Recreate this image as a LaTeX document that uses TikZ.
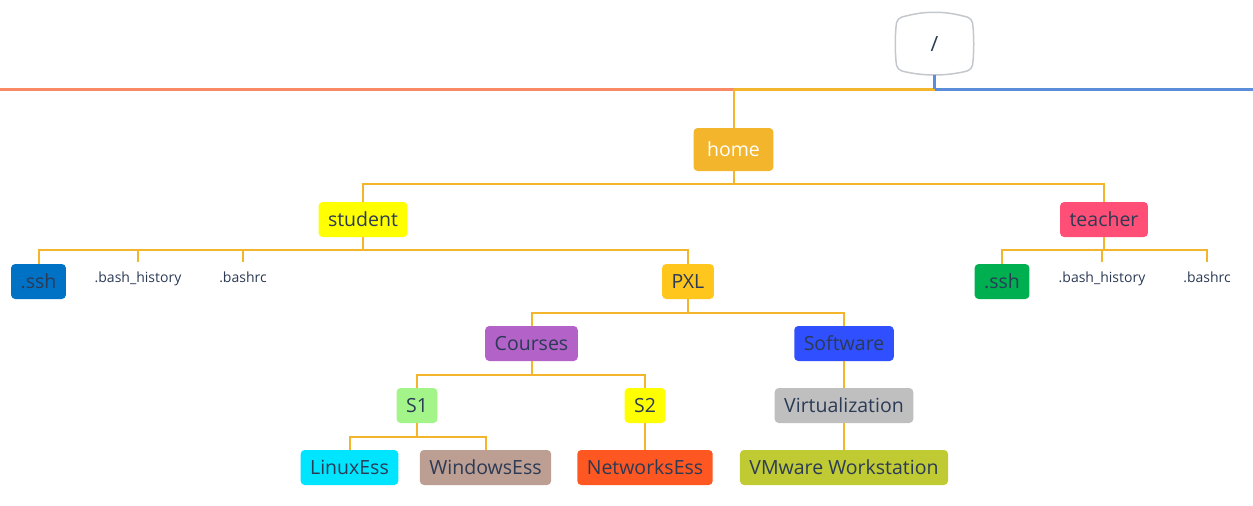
\documentclass[tikz,border=0pt]{standalone}
\usepackage{fontspec}
\setmainfont{Open Sans}
\usepackage{tikz}
\usetikzlibrary{calc}

\definecolor{txt}{HTML}{2B3A55}
\definecolor{branchc}{HTML}{F2B52B}
\definecolor{leftc}{HTML}{F88B66}
\definecolor{rightc}{HTML}{5B8DD9}
\definecolor{framec}{HTML}{C4C8CC}

\begin{document}
\begin{tikzpicture}[x=1pt,y=-1pt,
    box/.style={rounded corners=4pt,inner xsep=9.5pt,minimum height=35pt,
      font=\fontsize{19.5}{19.5}\selectfont,text=txt},
    leaf/.style={inner sep=0pt,font=\fontsize{14}{14}\selectfont,text=txt},
    branch/.style={branchc,line width=2pt},
    bus/.style={line width=3pt}]
          \useasboundingbox (0,0) rectangle (1253,506);
          % root and top line
          \draw[framec,line width=1.5pt,fill=white]
            (906,16) .. controls (925,11) and (944,11) .. (963,16)
            .. controls (970,17) and (973,20) .. (973,27)
            .. controls (974,38) and (974,50) .. (973,61)
            .. controls (973,68) and (970,71) .. (963,72)
            .. controls (944,76) and (925,76) .. (906,72)
            .. controls (899,71) and (896,68) .. (896,61)
            .. controls (895,50) and (895,38) .. (896,27)
            .. controls (896,20) and (899,17) .. (906,16) -- cycle;
          \node[minimum width=77pt,minimum height=62pt,
            font=\fontsize{21}{21}\selectfont,text=txt] (root) at (934.5,44) {/};
          \coordinate (rbus) at (934.5,89);
          \coordinate (hbus) at (733.5,89);
          \draw[bus,leftc] (0,89) -- (hbus);
          \draw[bus,branchc] (hbus) -- (rbus);
          \draw[bus,rightc] (rbus) -- (1253,89);
          \draw[line width=2.5pt,rightc] (root.south) -- (rbus);
          \node[box,fill=branchc,text=white,minimum height=43pt,inner xsep=13.5pt] (home) at (733.5,149.5) {home};
          \draw[branch] (hbus) -- (home.north);
          % home
          \node[box,fill={rgb,255:red,255;green,255;blue,0}] (student) at (363,219.5) {student};
          \node[box,fill={rgb,255:red,255;green,79;blue,118}] (teacher) at (1104,219.5) {teacher};
          \coordinate (homej) at (733.5,184);
          \draw[branch] (home.south) -- (homej) -| (student.north);
          \draw[branch] (homej) -| (teacher.north);
          % student
          \node[box,fill={rgb,255:red,0;green,114;blue,198}] (sssh) at (38.5,281.5) {.ssh};
          \node[leaf,anchor=north] (shist) at (138,272) {.bash\_history};
          \node[leaf,anchor=north] (src) at (243,272) {.bashrc};
          \node[box,fill={rgb,255:red,255;green,198;blue,30}] (pxl) at (688,281.5) {PXL};
          \coordinate (studj) at (363,250);
          \draw[branch] (student.south) -- (studj) -| (sssh.north);
          \draw[branch] (studj) -| (pxl.north);
          \draw[branch] (shist.north |- studj) -- ++(0,12);
          \draw[branch] (src.north |- studj) -- ++(0,12);
          % teacher
          \node[box,fill={rgb,255:red,0;green,176;blue,80}] (tssh) at (1002,281.5) {.ssh};
          \node[leaf,anchor=north] (thist) at (1102,272) {.bash\_history};
          \node[leaf,anchor=north] (trc) at (1207,272) {.bashrc};
          \coordinate (teachj) at (1104,250);
          \draw[branch] (teacher.south) -- (teachj) -| (tssh.north);
          \draw[branch] (teachj) -| ($(trc.north)+(0,-10)$);
          \draw[branch] (thist.north |- teachj) -- ++(0,12);
          % PXL
          \node[box,fill={rgb,255:red,179;green,98;blue,200}] (courses) at (531.5,343.5) {Courses};
          \node[box,fill={rgb,255:red,48;green,79;blue,254}] (soft) at (844,343.5) {Software};
          \coordinate (pxlj) at (688,313);
          \draw[branch] (pxl.south) -- (pxlj) -| (courses.north);
          \draw[branch] (pxlj) -| (soft.north);
          % Courses
          \node[box,fill={rgb,255:red,163;green,245;blue,138}] (s1) at (417,405.5) {S1};
          \node[box,fill={rgb,255:red,255;green,255;blue,0}] (s2) at (645,405.5) {S2};
          \coordinate (coursej) at (531.5,375);
          \draw[branch] (courses.south) -- (coursej) -| (s1.north);
          \draw[branch] (coursej) -| (s2.north);
          % S1, S2
          \node[box,fill={rgb,255:red,0;green,229;blue,255}] (linux) at (349.5,467.5) {LinuxEss};
          \node[box,fill={rgb,255:red,188;green,158;blue,147}] (windows) at (485.5,467.5) {WindowsEss};
          \node[box,fill={rgb,255:red,255;green,87;blue,34}] (networks) at (645,467.5) {NetworksEss};
          \coordinate (s1j) at (417,437);
          \draw[branch] (s1.south) -- (s1j) -| (linux.north);
          \draw[branch] (s1j) -| (windows.north);
          \draw[branch] (s2.south) -- (networks.north);
          % Software
          \node[box,fill={rgb,255:red,191;green,191;blue,191}] (virt) at (844,405.5) {Virtualization};
          \node[box,fill={rgb,255:red,192;green,202;blue,51}] (vmware) at (844,467.5) {VMware Workstation};
          \draw[branch] (soft.south) -- (virt.north);
          \draw[branch] (virt.south) -- (vmware.north);
        \end{tikzpicture}
\end{document}
